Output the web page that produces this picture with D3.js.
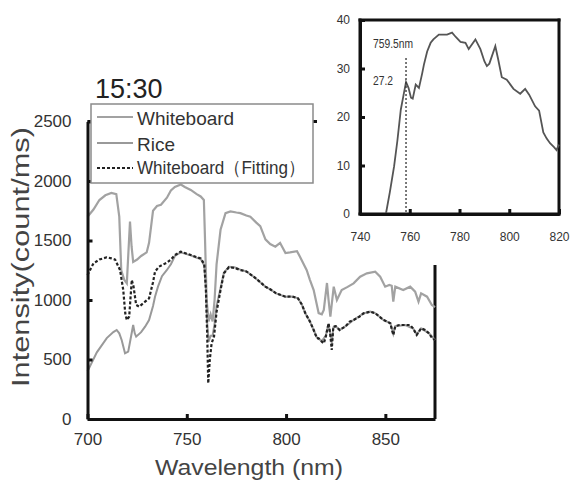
<!DOCTYPE html>
<html>
<head>
<meta charset="utf-8">
<script src="https://cdn.jsdelivr.net/npm/d3@7"></script>
<style>
  body { margin: 0; background: #fff; }
  svg { display: block; font-family: "Liberation Sans", Arial, sans-serif; }
</style>
</head>
<body>
<svg id="chart" width="571" height="487"></svg>
<script>
// main spectrum, wavelength (nm) / intensity (count/ms)
var wbNm = [700,703,706,709,712,714.5,716,717,718.5,719.8,720.6,721.4,722.2,723,725,727,729.8,731,733,735,737,740,742,744,747,749,752,755,757,758.6,759.2,760,761,762,763,764,765,767,769.5,772,775,777,780,782,785,787,789.6,792,794.6,797,799.7,802,805.5,807,810.4,812,813.9,816.4,818,819,820.6,821.4,822.3,824,825.6,828,831,834,837.3,840.7,844.9,847.4,849.9,852,853.2,854,855,859,862.5,865,866.7,868,871,873.4,875];
var wbVal = [1700,1760,1840,1880,1900,1890,1700,1250,1170,1140,1400,1660,1450,1320,1340,1370,1400,1480,1750,1790,1800,1860,1920,1950,1970,1950,1925,1890,1870,1840,1500,1000,820,880,820,1000,1300,1590,1730,1745,1735,1730,1710,1700,1650,1620,1510,1470,1448,1480,1395,1400,1410,1364,1250,1170,1084,890,880,916,1143,1000,860,1112,1000,1084,1110,1140,1196,1224,1238,1196,1112,1126,1120,986,1112,1084,1112,1070,986,1056,1028,958,940];

var riceNm = [700,704.7,709.7,713,714.7,716,717.2,718.9,720.5,722,723,723.8,724.5,727,729,731,733,734,735.5,737.5,739.9,742,744,746.9,749,752,755,757,758.8,759.6,760.3,761,762,763,764,765,767,768.7,771.2,774,777,780,783.7,787,789.6,792,795,799.7,803,806,808,809.7,812,813.9,815.5,818,820,821.4,822.2,823,823.8,825,827,830,834,839,842.4,845,849,852.5,854,855,860,864,865.8,868,872,875];
var riceVal = [400,560,680,730,748,720,664,552,566,700,790,720,692,730,776,832,950,1028,1112,1200,1250,1300,1370,1400,1390,1375,1355,1345,1290,1100,800,650,700,700,800,950,1100,1230,1280,1275,1255,1240,1196,1150,1112,1090,1056,1028,1030,1014,960,888,820,748,685,655,700,800,720,640,770,780,748,780,832,888,902,888,832,804,715,780,790,760,710,762,720,664];

var fitNm = [700,703,706,709.7,712,713.9,716.4,718,719,719.8,721,722.3,723.2,724.5,726,729,731,733,734,736,739.9,742,744,746.9,749,752,755,757,758.8,759.6,760.3,760.8,761.6,762.5,763.7,765,767,768.7,771.2,774,777,780,783.7,787,789.6,792,795,799.7,803,806,808,809.7,812,813.9,815.5,816.4,818,819,820,821.4,822.2,823,823.8,825,827,830,832,834,837,839,842.4,845,849,851,852.5,854,855,857,860,862.5,864,865.8,868,870,872,873.5,875];
var fitVal = [1210,1308,1340,1359,1350,1340,1252,1084,890,832,860,1168,1112,958,944,986,1014,1150,1238,1280,1313,1340,1378,1406,1395,1378,1360,1350,1300,1100,700,300,500,636,692,900,1084,1224,1275,1270,1252,1240,1196,1150,1112,1090,1056,1028,1030,1014,960,888,820,748,680,678,650,636,692,804,720,580,776,780,748,780,818,832,860,888,902,888,832,818,804,706,780,790,790,790,760,706,762,748,720,680,664];

var xTicks = [700,750,800,850];
var yTicks = [0,500,1000,1500,2000,2500];

// inset: zoom of the rice spectrum near the O2 band
var insetNm = [750.4,752,753.7,755,756.4,757.5,758.5,759.5,760.5,761.2,762.4,763.7,765,765.7,767,768.4,769.5,771.7,773,775,777,778.5,780.4,782.4,783.7,786.4,788.4,790,791,792,794.4,795.5,797,799,801.7,804.4,806.4,808,810.4,812,813.7,815,816.4,818,819,820];
var insetVal = [0,4.5,9.8,15,21.5,24.5,27.2,26,24,23.8,26.7,26,29,30.8,33.5,35.3,36,37,37,37,37.4,36.5,35.5,35.3,34,36,34,31.5,30.5,31,34.6,32,28.2,27.7,25.8,24.8,25.8,24.6,22.2,21.3,16.8,15.6,14.6,13.8,13.2,14.3];
var insetXTicks = [740,760,780,800,820];
var insetYTicks = [0,10,20,30,40];
var markNm = 758.5, markLabel = "759.5nm", markValLabel = "27.2";

(function(){
var svg = d3.select('#chart');
var fontFam = '"Liberation Sans", Arial, sans-serif';

var x = d3.scaleLinear().domain([700, 875]).range([87.5, 435]);
var y = d3.scaleLinear().domain([0, 2500]).range([419, 121.5]);
var ix = d3.scaleLinear().domain([740, 820]).range([360, 559]);
var iy = d3.scaleLinear().domain([0, 40]).range([214, 20]);

// inset panel frame, drawn first as filled bars
var fw = 3;
svg.append('rect').attr('x', ix(740) - fw / 2).attr('y', iy(40) - fw / 2)
    .attr('width', ix(820) - ix(740) + fw).attr('height', fw).attr('fill', '#111');
svg.append('rect').attr('x', ix(740) - fw / 2).attr('y', iy(0) - fw / 2)
    .attr('width', ix(820) - ix(740) + fw).attr('height', fw).attr('fill', '#111');
svg.append('rect').attr('x', ix(740) - fw / 2).attr('y', iy(40) - fw / 2)
    .attr('width', fw).attr('height', iy(0) - iy(40) + fw).attr('fill', '#111');
svg.append('rect').attr('x', ix(820) - fw / 2).attr('y', iy(40) - fw / 2)
    .attr('width', fw).attr('height', iy(0) - iy(40) + fw).attr('fill', '#111');

// visible bits of the main frame top/right (the inset sits over the rest)
svg.append('rect').attr('x', x(700)).attr('y', y(2500) - 1.5).attr('width', 317 - x(700)).attr('height', 3).attr('fill', '#111');
svg.append('rect').attr('x', x(875) - 1.5).attr('y', 265).attr('width', 3).attr('height', y(0) - 265).attr('fill', '#111');

function mkLine(nm, vals, xs, ys){
    var pts = nm.map(function(d, i){ return [d, vals[i]]; });
    return d3.line().x(function(d){ return xs(d[0]); }).y(function(d){ return ys(d[1]); })(pts);
}

svg.append('path').attr('d', mkLine(wbNm, wbVal, x, y))
    .attr('fill', 'none').attr('stroke', '#a2a2a2').attr('stroke-width', 2.2);
svg.append('path').attr('d', mkLine(riceNm, riceVal, x, y))
    .attr('fill', 'none').attr('stroke', '#999').attr('stroke-width', 2);
svg.append('path').attr('d', mkLine(fitNm, fitVal, x, y))
    .attr('fill', 'none').attr('stroke', '#222').attr('stroke-width', 2.2)
    .attr('stroke-dasharray', '3,2');

// axes
var xAxis = svg.append('g').attr('transform', 'translate(0,419)')
    .call(d3.axisBottom(x).tickValues(xTicks).tickFormat(d3.format('d'))
        .tickSizeInner(-5).tickSizeOuter(0).tickPadding(14));
var yAxis = svg.append('g').attr('transform', 'translate(87.5,0)')
    .call(d3.axisLeft(y).tickValues(yTicks).tickFormat(d3.format('d'))
        .tickSizeInner(-5).tickSizeOuter(0).tickPadding(16));
[xAxis, yAxis].forEach(function(a){
    a.select('.domain').attr('stroke', '#111').attr('stroke-width', 3);
    a.selectAll('.tick line').attr('stroke', '#111').attr('stroke-width', 3);
    a.selectAll('.tick text').attr('font-family', fontFam).attr('font-size', 17).attr('fill', '#333');
});

// axis titles
svg.append('text').attr('x', 249).attr('y', 475).attr('text-anchor', 'middle')
    .attr('font-size', 22).attr('fill', '#444')
    .attr('textLength', 188).attr('lengthAdjust', 'spacingAndGlyphs')
    .text('Wavelength (nm)');
svg.append('text').attr('transform', 'translate(29,257) rotate(-90)').attr('text-anchor', 'middle')
    .attr('font-size', 23).attr('fill', '#444')
    .attr('textLength', 260).attr('lengthAdjust', 'spacingAndGlyphs')
    .text('Intensity(count/ms)');

svg.append('text').attr('x', 95).attr('y', 98).attr('font-size', 27).attr('fill', '#222').text('15:30');

// legend
var lg = svg.append('g');
lg.append('rect').attr('x', 91).attr('y', 104).attr('width', 222).attr('height', 79)
    .attr('fill', '#fff').attr('stroke', '#8a8a8a').attr('stroke-width', 1.5);
var legendItems = [
    {label: 'Whiteboard', color: '#a2a2a2', dash: null, yy: 117, ty: 125},
    {label: 'Rice', color: '#999', dash: null, yy: 143, ty: 150.5},
    {label: 'Whiteboard\uFF08Fitting\uFF09', color: '#222', dash: '3,2', yy: 168, ty: 174}
];
legendItems.forEach(function(it){
    var ln = lg.append('line').attr('x1', 97).attr('x2', 133).attr('y1', it.yy).attr('y2', it.yy)
        .attr('stroke', it.color).attr('stroke-width', 2);
    if (it.dash) ln.attr('stroke-dasharray', it.dash);
    var t = lg.append('text').attr('x', 137).attr('y', it.ty).attr('font-size', 19).attr('fill', '#333').text(it.label);
    if (it.dash) t.attr('textLength', 168).attr('lengthAdjust', 'spacingAndGlyphs');
});

// inset content
svg.append('path').attr('d', mkLine(insetNm, insetVal, ix, iy))
    .attr('fill', 'none').attr('stroke', '#555').attr('stroke-width', 1.8);
svg.append('line').attr('x1', ix(markNm)).attr('x2', ix(markNm)).attr('y1', 58).attr('y2', iy(0))
    .attr('stroke', '#333').attr('stroke-width', 1.3).attr('stroke-dasharray', '2,2');
svg.append('text').attr('x', 373).attr('y', 48).attr('font-size', 12).attr('fill', '#333')
    .attr('textLength', 40).attr('lengthAdjust', 'spacingAndGlyphs').text(markLabel);
svg.append('text').attr('x', 373).attr('y', 85).attr('font-size', 13).attr('fill', '#333')
    .attr('textLength', 20).attr('lengthAdjust', 'spacingAndGlyphs').text(markValLabel);

var ixAxis = svg.append('g').attr('transform', 'translate(0,' + iy(0) + ')')
    .call(d3.axisBottom(ix).tickValues(insetXTicks).tickSizeInner(-5).tickSizeOuter(0).tickPadding(18));
var iyAxis = svg.append('g').attr('transform', 'translate(' + ix(740) + ',0)')
    .call(d3.axisLeft(iy).tickValues(insetYTicks).tickSizeInner(-5).tickSizeOuter(0).tickPadding(10));
[ixAxis, iyAxis].forEach(function(a){
    a.select('.domain').attr('stroke', '#111').attr('stroke-width', 3);
    a.selectAll('.tick line').attr('stroke', '#111').attr('stroke-width', 3);
    a.selectAll('.tick text').attr('font-family', fontFam).attr('font-size', 12).attr('fill', '#333');
});
})();
</script>
</body>
</html>
